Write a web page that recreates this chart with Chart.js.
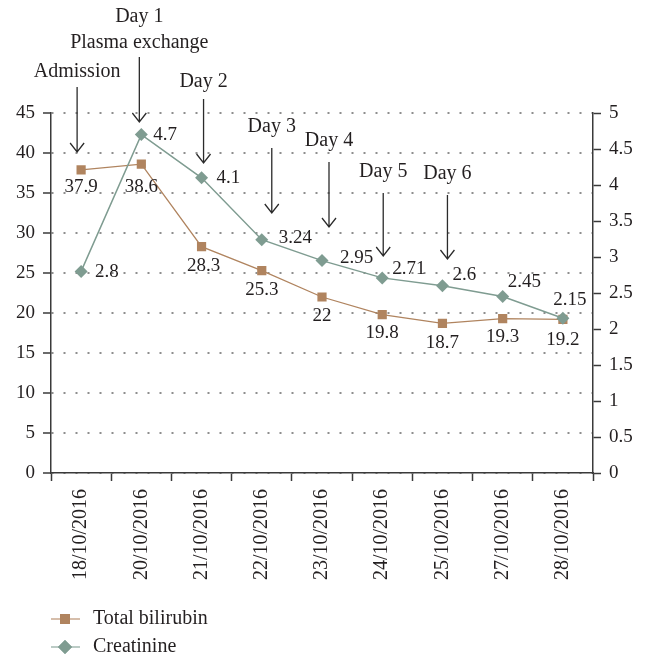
<!DOCTYPE html>
<html>
<head>
<meta charset="utf-8">
<script src="https://cdn.jsdelivr.net/npm/chart.js@4.4.0/dist/chart.umd.min.js"></script>
<style>
  html, body { margin: 0; padding: 0; background: #fff; }
</style>
</head>
<body>
<canvas id="chart" width="646" height="656"></canvas>
<script>
// data
const dates = ["18/10/2016", "20/10/2016", "21/10/2016", "22/10/2016", "23/10/2016",
               "24/10/2016", "25/10/2016", "27/10/2016", "28/10/2016"];
const bilirubin = [37.9, 38.6, 28.3, 25.3, 22, 19.8, 18.7, 19.3, 19.2];
const creatinine = [2.8, 4.7, 4.1, 3.24, 2.95, 2.71, 2.6, 2.45, 2.15];
const seriesNames = ["Total bilirubin", "Creatinine"];
const eventNames = [["Admission"], ["Day 1", "Plasma exchange"], ["Day 2"], ["Day 3"],
                    ["Day 4"], ["Day 5"], ["Day 6"]];
const eventDates = [0, 1, 2, 3, 4, 5, 6];

// label placement (pixel offsets from the point)
const biliLabelPos = [[0, 17], [0, 23], [2, 19], [0, 19], [0, 19], [0, 18], [0, 20], [0, 18], [0, 21]];
const creaLabelPos = [[14, 1, "left"], [12, 0, "left"], [15, 0, "left"], [17, -2, "left"], [18, -3, "left"],
                      [10, -9, "left"], [10, -11, "left"], [5, -15, "left"], [7, -18, "center"]];
// annotation arrows: x shift, arrow top, arrow bottom, text y of last line
const eventPos = [[-4, 87, 152, 72], [-2, 57, 122, 43], [2, 99, 163, 82], [10, 148, 213, 127],
                  [7, 162, 227, 141], [1, 193, 256, 172], [5, 195, 259, 174]];

const BROWN = "#b0845f";
const GREEN = "#7f9c91";
const INK = "#231f20";
const AXIS = "#3a3a3a";
const FONT = "'Liberation Serif', 'DejaVu Serif', serif";

Chart.defaults.font.family = FONT;
Chart.defaults.font.size = 19;
Chart.defaults.color = INK;

const extras = {
  id: "extras",
  afterDatasetsDraw(chart) {
    const ctx = chart.ctx;
    ctx.save();
    ctx.font = "19px " + FONT;
    ctx.fillStyle = INK;
    ctx.textBaseline = "middle";
    const m0 = chart.getDatasetMeta(0).data;
    const m1 = chart.getDatasetMeta(1).data;
    bilirubin.forEach((v, i) => {
      ctx.textAlign = "center";
      ctx.fillText(String(v), m0[i].x + biliLabelPos[i][0], m0[i].y + biliLabelPos[i][1]);
    });
    creatinine.forEach((v, i) => {
      const p = creaLabelPos[i];
      ctx.textAlign = p[2];
      ctx.fillText(String(v), m1[i].x + p[0], m1[i].y + p[1]);
    });

    // event arrows
    const xs = chart.scales.x;
    ctx.strokeStyle = "#2b2b2b";
    ctx.lineWidth = 1.3;
    ctx.font = "20px " + FONT;
    ctx.textAlign = "center";
    eventNames.forEach((lines, k) => {
      const [dx, top, bottom, ty] = eventPos[k];
      const x = xs.getPixelForValue(eventDates[k]) + dx;
      ctx.beginPath();
      ctx.moveTo(x, top);
      ctx.lineTo(x, bottom);
      ctx.moveTo(x - 7, bottom - 9);
      ctx.lineTo(x, bottom);
      ctx.lineTo(x + 7, bottom - 9);
      ctx.stroke();
      lines.forEach((t, j) => {
        ctx.fillText(t, x, ty - (lines.length - 1 - j) * 26);
      });
    });

    // legend
    const rows = [[BROWN, "rect", 619], [GREEN, "rectRot", 647]];
    ctx.textAlign = "left";
    ctx.font = "20px " + FONT;
    rows.forEach((r, k) => {
      ctx.strokeStyle = r[0];
      ctx.globalAlpha = 0.7;
      ctx.lineWidth = 1.5;
      ctx.beginPath();
      ctx.moveTo(51, r[2]);
      ctx.lineTo(80, r[2]);
      ctx.stroke();
      ctx.globalAlpha = 1;
      ctx.fillStyle = r[0];
      Chart.helpers.drawPoint(ctx, { pointStyle: r[1], radius: 7, rotation: 0, borderWidth: 0 }, 65, r[2]);
      ctx.fill();
      ctx.fillStyle = INK;
      ctx.fillText(seriesNames[k], 93, r[2]);
    });
    ctx.restore();
  }
};

new Chart(document.getElementById("chart"), {
  type: "line",
  data: {
    labels: dates,
    datasets: [
      {
        label: seriesNames[0],
        data: bilirubin,
        yAxisID: "y",
        borderColor: BROWN,
        backgroundColor: BROWN,
        borderWidth: 1.3,
        pointStyle: "rect",
        pointRadius: 6.5,
        pointBorderWidth: 0,
        tension: 0,
        order: 1
      },
      {
        label: seriesNames[1],
        data: creatinine,
        yAxisID: "y1",
        borderColor: GREEN,
        backgroundColor: GREEN,
        borderWidth: 1.5,
        pointStyle: "rectRot",
        pointRadius: 6.5,
        pointBorderWidth: 0,
        tension: 0,
        order: 0
      }
    ]
  },
  options: {
    responsive: false,
    animation: false,
    layout: { padding: { top: 113, bottom: 63, left: 0, right: 0 } },
    plugins: { legend: { display: false }, tooltip: { enabled: false } },
    scales: {
      x: {
        offset: true,
        grid: { offset: true, drawOnChartArea: false, tickLength: 8, tickColor: AXIS, tickWidth: 1.5 },
        border: { color: AXIS, width: 1.5 },
        ticks: { minRotation: 90, maxRotation: 90, padding: 8, font: { size: 20 } },
        afterFit(s) { s.height = 120; }
      },
      y: {
        position: "left",
        min: 0, max: 45,
        ticks: { stepSize: 5, padding: 8, callback: v => String(v) },
        grid: { color: "#8e8e8e", lineWidth: 2, tickLength: 8,
                tickColor: AXIS, tickWidth: 1.5, tickBorderDash: [] },
        border: { color: AXIS, width: 1.5, dash: [2, 10] },
        afterFit(s) { s.width = 51; }
      },
      y1: {
        position: "right",
        min: 0, max: 5,
        ticks: { stepSize: 0.5, padding: 8, callback: v => String(v) },
        grid: { drawOnChartArea: false, tickLength: 8, tickColor: AXIS, tickWidth: 1.5 },
        border: { color: AXIS, width: 1.5 },
        afterFit(s) { s.width = 53; }
      }
    }
  },
  plugins: [extras]
});
</script>
</body>
</html>
